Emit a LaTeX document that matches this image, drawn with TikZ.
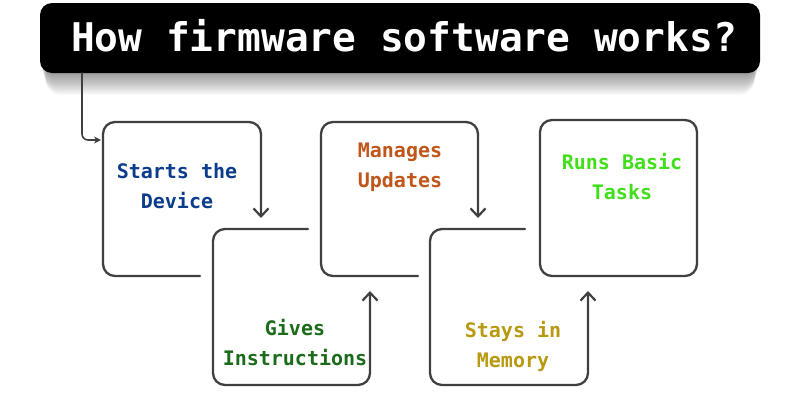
\documentclass[tikz,border=0pt]{standalone}
\usepackage{fontspec}
\setmonofont{DejaVu Sans Mono}
\usetikzlibrary{arrows.meta}
\definecolor{cblue}{HTML}{0B3D8C}
\definecolor{corange}{HTML}{C0561A}
\definecolor{clime}{HTML}{3FE01A}
\definecolor{cgreen}{HTML}{1A6B1A}
\definecolor{cgold}{HTML}{B89A10}
\tikzset{
  flow/.style={draw=black!75, line width=2.3pt, rounded corners=12pt, line cap=round},
  arr/.style={flow, -{Straight Barb[length=8pt,width=15pt,line width=2.2pt]}},
  lbl/.style={font=\ttfamily\bfseries\fontsize{20}{30}\selectfont, align=center},
}
\begin{document}
\begin{tikzpicture}[x=1pt,y=-1pt]
\useasboundingbox (0,0) rectangle (800,400);
\fill[white] (0,0) rectangle (800,400);
% shadow
\foreach \i in {1,...,12}{
  \fill[black, opacity=0.035, rounded corners=14pt] (40+\i*0.5,6+\i*0.9) rectangle (760-\i*0.5,73+\i*1.8);
}
\node[fill=black, rounded corners=12pt, minimum width=720pt, minimum height=70pt, inner sep=0pt] (title) at (400,38) {};
\node[text=white, font=\ttfamily\bfseries\fontsize{39.5}{40}\selectfont] (tt) at (404,36) {How firmware software works?};
\coordinate (e0) at (82,73);
\coordinate (e1) at (101,140);
\draw[flow, rounded corners=6pt, line width=1.6pt, -{Stealth[length=7pt,width=7pt]}] (e0) |- (e1);
% box 1
\draw[arr] (200,276) -- (103,276) -- (103,122) -- (261,122) -- (261,218);
% box 2
\draw[arr] (308,229) -- (213,229) -- (213,385) -- (370,385) -- (370,291);
% box 3
\draw[arr] (418,276) -- (321,276) -- (321,122) -- (478,122) -- (478,218);
% box 4
\draw[arr] (525,229) -- (430,229) -- (430,385) -- (588,385) -- (588,291);
% box 5
\draw[flow] (540,120) rectangle (697,276);
\node[lbl, text=cblue] (n1) at (177,186) {Starts the\\Device};
\node[lbl, text=cgreen] (n2) at (295,343) {Gives\\Instructions};
\node[lbl, text=corange] (n3) at (400,167) {Manages\\Updates};
\node[lbl, text=cgold] (n4) at (513,346) {Stays in\\Memory};
\node[lbl, text=clime] (n5) at (622,177) {Runs Basic\\Tasks};
\end{tikzpicture}
\end{document}
